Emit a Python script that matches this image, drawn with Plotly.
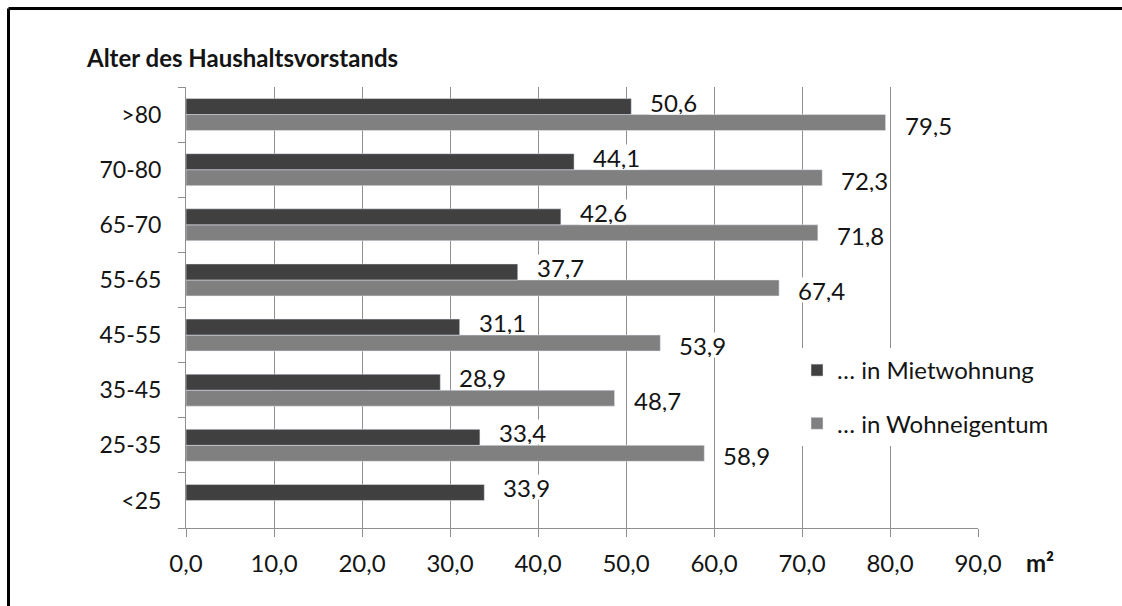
import plotly.graph_objects as go

# Age groups of the head of household (bottom to top)
categories = ["<25", "25-35", "35-45", "45-55", "55-65", "65-70", "70-80", ">80"]
# Living space per person in m²
miete = [33.9, 33.4, 28.9, 31.1, 37.7, 42.6, 44.1, 50.6]
eigentum = [None, 58.9, 48.7, 53.9, 67.4, 71.8, 72.3, 79.5]
x_ticks = [0, 10, 20, 30, 40, 50, 60, 70, 80, 90]

name_miete = "… in Mietwohnung"
name_eigentum = "… in Wohneigentum"
title_text = "Alter des Haushaltsvorstands"
unit_text = "m²"

W, H = 1122, 606
L, R, T, B = 186, 978, 87, 528

FONT = "Lato"
TXT = "#141414"
GRID = "#8f8f8f"
DARK = "#404040"
LIGHT = "#808080"


def px_x(px):
    return (px - L) / (R - L)


def px_y(py):
    return (B - py) / (B - T)


def fmt(v):
    return f"{v:.1f}".replace(".", ",")


fig = go.Figure()
# Second trace in a group is drawn above the first on a horizontal bar chart
fig.add_trace(go.Bar(
    y=categories, x=eigentum, orientation="h", name=name_eigentum,
    marker=dict(color=LIGHT), legendgroup="b", legendrank=2,
))
fig.add_trace(go.Bar(
    y=categories, x=miete, orientation="h", name=name_miete,
    marker=dict(color=DARK), legendgroup="a", legendrank=1,
))

label_style = dict(
    xref="x", yref="y", showarrow=False, xanchor="left", yanchor="middle",
    xshift=18, bgcolor="white", borderpad=0, height=24, valign="middle",
    font=dict(family=FONT, size=24, color=TXT),
)
annotations = []
for cat, v in zip(categories, miete):
    if v is not None:
        annotations.append(dict(x=v, y=cat, text=fmt(v), yshift=13, **label_style))
for cat, v in zip(categories, eigentum):
    if v is not None:
        annotations.append(dict(x=v, y=cat, text=fmt(v), yshift=-10, **label_style))

# unit label next to the x axis
annotations.append(dict(
    x=px_x(1024), y=px_y(562), xref="paper", yref="paper",
    text=f"<b>{unit_text}</b>", showarrow=False,
    xanchor="left", yanchor="middle",
    font=dict(family=FONT, size=24, color=TXT),
))

shapes = [
    # frame lines along the top and left
    dict(type="line", xref="paper", yref="paper",
         x0=px_x(8.5), x1=px_x(W + 10), y0=px_y(8.5), y1=px_y(8.5),
         line=dict(color="black", width=3)),
    dict(type="line", xref="paper", yref="paper",
         x0=px_x(8.5), x1=px_x(8.5), y0=px_y(8.5), y1=px_y(H + 10),
         line=dict(color="black", width=3)),
]

fig.update_layout(
    width=W, height=H,
    margin=dict(l=L, r=W - R, t=T, b=H - B, pad=0),
    paper_bgcolor="white", plot_bgcolor="white",
    barmode="group", bargap=0.42, bargroupgap=0,
    separators=", ",
    font=dict(family=FONT, size=23, color=TXT),
    title=dict(
        text=f"<b>{title_text}</b>", x=87 / W, xref="container", xanchor="left",
        y=1 - 59 / H, yref="container", yanchor="middle",
        font=dict(family=FONT, size=24, color=TXT),
    ),
    legend=dict(
        x=px_x(797), y=px_y(348), xref="paper", yref="paper",
        xanchor="left", yanchor="top",
        bgcolor="white", borderwidth=0,
        traceorder="grouped", tracegroupgap=19,
        font=dict(family=FONT, size=24, color=TXT),
        itemwidth=30,
    ),
    xaxis=dict(
        range=[0, 90], tickvals=x_ticks, tickformat=".1f",
        showgrid=True, gridcolor=GRID, gridwidth=1,
        showline=True, linecolor=GRID, linewidth=1,
        ticks="outside", ticklen=8, tickcolor=GRID,
        zeroline=False, fixedrange=True,
        ticklabelstandoff=6, tickfont=dict(size=24),
    ),
    yaxis=dict(
        categoryorder="array", categoryarray=categories,
        showgrid=False, showline=True, linecolor=GRID, linewidth=1,
        ticks="outside", ticklen=7, tickcolor=GRID, tickson="boundaries",
        zeroline=False, fixedrange=True,
        ticklabelstandoff=19, tickfont=dict(size=23),
    ),
    annotations=annotations,
    shapes=shapes,
    showlegend=True,
)

fig.write_html("out.html")
